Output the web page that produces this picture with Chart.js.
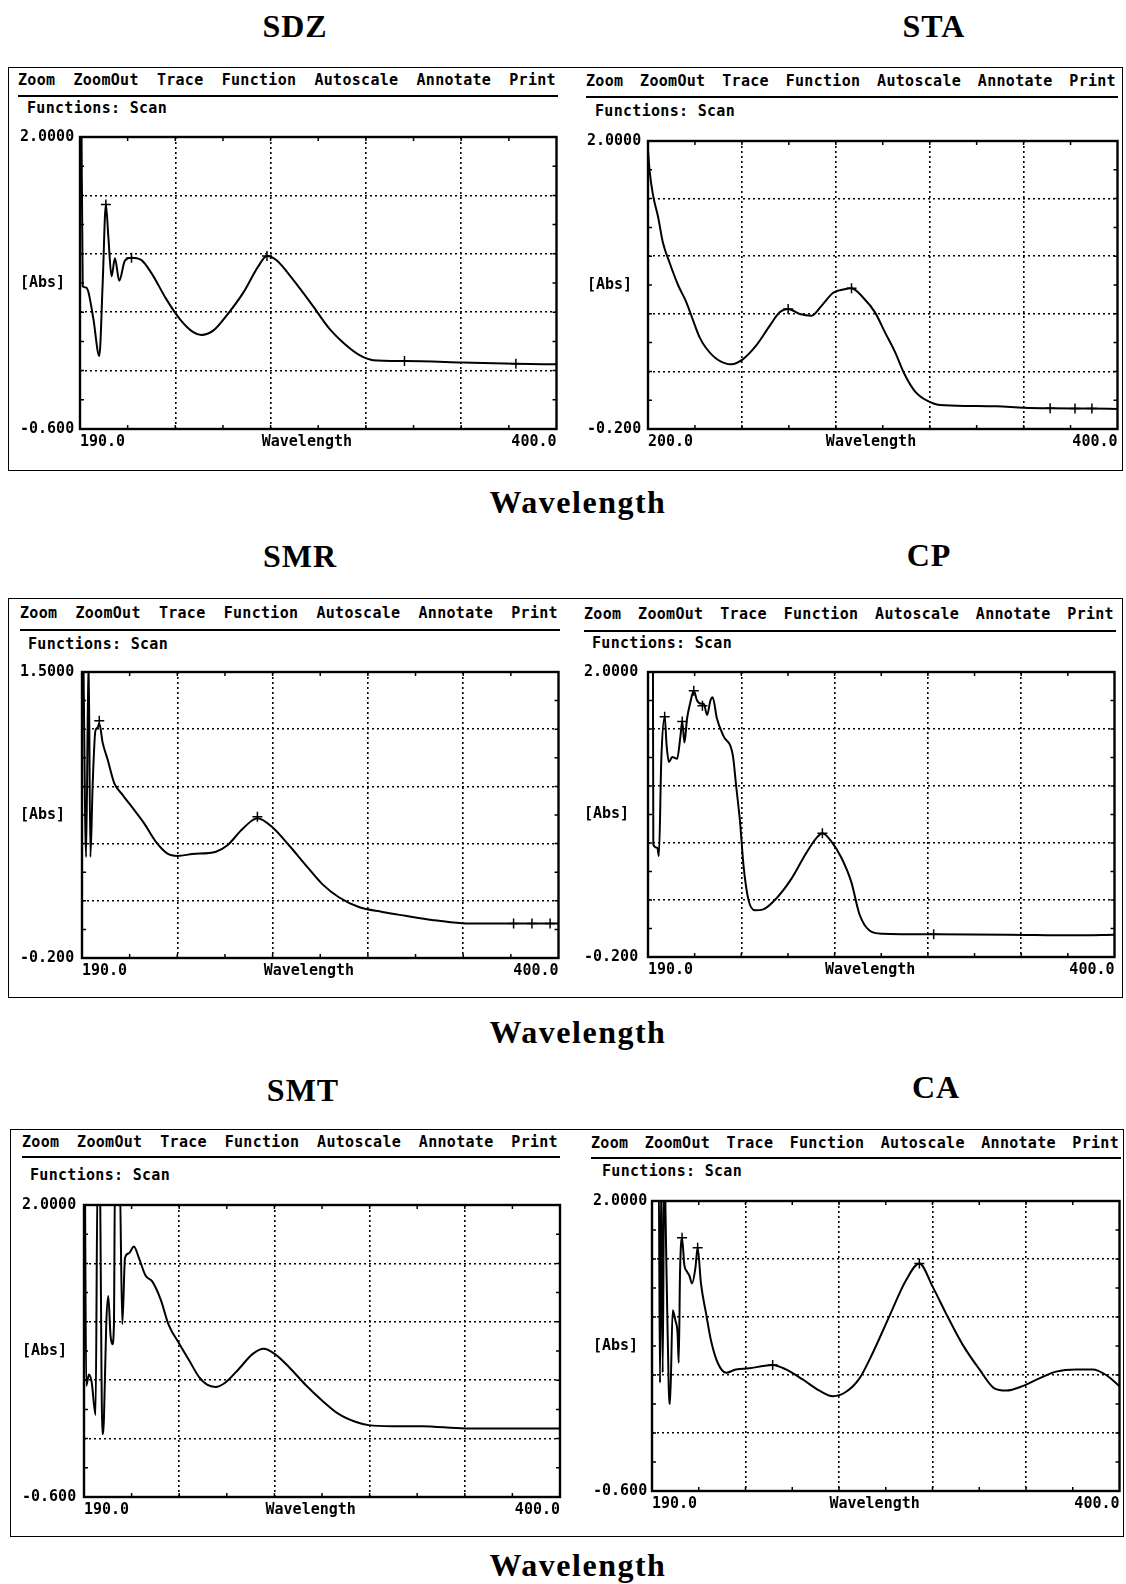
<!DOCTYPE html>
<html>
<head>
<meta charset="utf-8">
<title>UV scans</title>
<script src="https://cdn.jsdelivr.net/npm/chart.js"></script>
<style>
  body { margin: 0; background: #fff; }
  #page { position: relative; width: 1126px; height: 1584px; background: #fff; overflow: hidden; }
  .title, .caption { position: absolute; transform: translate(-50%, -50%); font-family: "Liberation Serif", "DejaVu Serif", serif; font-weight: bold; color: #000; white-space: nowrap; }
  .title { font-size: 32px; letter-spacing: 1px; }
  .caption { font-size: 32px; letter-spacing: 1.5px; }
  .box { position: absolute; border: 1.5px solid #000; box-sizing: border-box; }
  .menu { position: absolute; display: flex; justify-content: space-between; height: 18px; line-height: 18px; font: bold 15px "DejaVu Sans Mono", monospace; letter-spacing: 0.3px; color: #000; }
  .rule { position: absolute; height: 2px; background: #000; }
  .func { position: absolute; height: 18px; line-height: 18px; font: bold 15px "DejaVu Sans Mono", monospace; letter-spacing: 0.3px; color: #000; white-space: pre; }
  canvas { position: absolute; }
</style>
</head>
<body>
<div id="page"></div>
<script>
// ---- data ----
const titles = ['SDZ', 'STA', 'SMR', 'CP', 'SMT', 'CA'];
const menuItems = ['Zoom', 'ZoomOut', 'Trace', 'Function', 'Autoscale', 'Annotate', 'Print'];
const functionsText = 'Functions: Scan';
const xCaption = 'Wavelength';

const xMin = [190, 200, 190, 190, 190, 190];
const xMax = [400, 400, 400, 400, 400, 400];
const yMin = [-0.6, -0.2, -0.2, -0.2, -0.6, -0.6];
const yMax = [2.0, 2.0, 1.5, 2.0, 2.0, 2.0];
const xStartLabels = ['190.0', '200.0', '190.0', '190.0', '190.0', '190.0'];
const xEndLabels = ['400.0', '400.0', '400.0', '400.0', '400.0', '400.0'];
const yTopLabels = ['2.0000', '2.0000', '1.5000', '2.0000', '2.0000', '2.0000'];
const yBottomLabels = ['-0.600', '-0.200', '-0.200', '-0.200', '-0.600', '-0.600'];
const yMidLabel = '[Abs]';

const sdzWl = [190.6, 191.2, 192.6, 193.7, 195.9, 198.5, 200.0, 201.4, 202.5, 203.9, 205.4, 207.3, 209.8, 212.7, 217.1, 221.5, 228.1, 234.0, 239.9, 243.5, 248.7, 254.5, 261.9, 268.5, 272.4, 276.5, 283.9, 292.6, 300.0, 307.3, 313.2, 319.1, 333.0, 358.6, 382.1, 400.0];
const sdzAbs = [2.3, 0.67, 0.66, 0.62, 0.38, 0.05, 0.70, 1.40, 1.11, 0.76, 0.92, 0.72, 0.90, 0.925, 0.904, 0.788, 0.554, 0.379, 0.262, 0.238, 0.276, 0.408, 0.612, 0.846, 0.940, 0.904, 0.729, 0.496, 0.291, 0.145, 0.057, 0.013, 0.005, -0.007, -0.019, -0.024];
const sdzMarkWl = [201.4, 212.7, 272.4, 333.0, 382.1];
const sdzMarkAbs = [1.40, 0.925, 0.94, 0.005, -0.019];

const staWl = [200.0, 200.7, 202.1, 204.3, 206.4, 209.2, 212.8, 216.3, 219.2, 222.0, 224.9, 229.9, 235.5, 240.5, 246.2, 251.9, 256.1, 259.7, 264.7, 269.7, 273.9, 278.9, 283.2, 286.7, 291.7, 296.7, 300.9, 305.2, 309.4, 313.7, 318.7, 324.4, 337.2, 348.6, 359.9, 371.3, 389.1, 400.0];
const staAbs = [1.93, 1.77, 1.59, 1.42, 1.22, 1.07, 0.90, 0.77, 0.63, 0.50, 0.415, 0.327, 0.294, 0.334, 0.44, 0.59, 0.691, 0.716, 0.678, 0.665, 0.741, 0.841, 0.866, 0.876, 0.803, 0.691, 0.54, 0.389, 0.214, 0.088, 0.018, -0.017, -0.024, -0.027, -0.037, -0.042, -0.044, -0.047];
const staMarkWl = [259.7, 286.7, 371.3, 381.9, 389.1];
const staMarkAbs = [0.716, 0.876, -0.042, -0.043, -0.044];

const smrWl = [190.6, 191.8, 192.9, 193.7, 194.7, 195.9, 196.9, 197.6, 199.1, 201.3, 204.2, 207.9, 213.0, 217.4, 222.6, 227.7, 232.1, 238.7, 249.0, 254.1, 260.0, 265.1, 267.3, 273.9, 281.2, 288.5, 295.9, 303.2, 312.0, 322.3, 332.5, 344.2, 357.5, 367.7, 380.9, 400.0];
const smrAbs = [1.6, 0.40, 1.6, 0.40, 0.83, 1.15, 1.17, 1.195, 1.08, 0.98, 0.84, 0.77, 0.68, 0.60, 0.49, 0.42, 0.407, 0.418, 0.432, 0.47, 0.557, 0.619, 0.631, 0.577, 0.47, 0.354, 0.239, 0.161, 0.103, 0.074, 0.051, 0.026, 0.007, 0.005, 0.005, 0.005];
const smrMarkWl = [197.6, 267.3, 380.2, 388.3, 396.3];
const smrMarkAbs = [1.21, 0.64, 0.005, 0.005, 0.005];

const cpWl = [192.2, 192.4, 194.2, 194.9, 196.0, 197.5, 198.4, 199.4, 200.9, 203.1, 204.6, 205.4, 206.4, 207.6, 209.1, 210.6, 212.1, 213.9, 215.1, 216.6, 218.1, 219.1, 221.0, 224.0, 228.2, 229.7, 231.5, 233.0, 235.2, 238.2, 241.9, 247.9, 254.6, 261.3, 265.8, 268.5, 272.5, 277.0, 281.5, 285.2, 289.7, 295.6, 318.6, 352.3, 382.1, 400.0];
const cpAbs = [2.3, 0.668, 0.643, 0.58, 1.33, 1.655, 1.43, 1.305, 1.343, 1.33, 1.505, 1.618, 1.455, 1.643, 1.768, 1.855, 1.78, 1.755, 1.755, 1.668, 1.78, 1.805, 1.643, 1.505, 1.355, 1.118, 0.83, 0.505, 0.243, 0.16, 0.168, 0.255, 0.405, 0.605, 0.718, 0.755, 0.693, 0.568, 0.38, 0.13, 0.005, -0.02, -0.025, -0.028, -0.033, -0.028];
const cpMarkWl = [197.5, 205.4, 210.6, 214.5, 268.5, 318.6];
const cpMarkAbs = [1.655, 1.618, 1.855, 1.74, 0.755, -0.025];

const smtWl = [190.4, 191.0, 192.2, 193.4, 195.1, 196.0, 196.9, 198.1, 198.8, 199.8, 200.7, 201.7, 202.5, 203.2, 203.7, 204.7, 205.7, 206.9, 208.1, 209.8, 212.0, 214.2, 217.2, 220.1, 223.8, 227.4, 231.9, 236.3, 240.7, 244.3, 248.0, 252.4, 258.3, 264.2, 269.3, 274.4, 280.3, 287.7, 295.0, 302.3, 309.7, 315.6, 325.8, 339.1, 358.2, 377.2, 400.0];
const smtAbs = [2.3, 0.39, 0.49, 0.42, 0.13, 2.3, 2.3, -0.04, 0.10, 0.93, 1.19, 0.84, 0.76, 0.93, 2.3, 2.3, 2.3, 0.94, 1.53, 1.57, 1.63, 1.53, 1.37, 1.32, 1.16, 0.93, 0.77, 0.62, 0.47, 0.40, 0.38, 0.42, 0.54, 0.67, 0.72, 0.67, 0.56, 0.40, 0.26, 0.14, 0.07, 0.04, 0.03, 0.03, 0.01, 0.01, 0.01];
const smtMarkWl = [];
const smtMarkAbs = [];

const caWl = [190.0, 193.0, 193.6, 194.2, 194.8, 195.5, 196.6, 197.5, 198.1, 199.3, 200.5, 201.5, 202.0, 202.6, 203.5, 204.5, 205.6, 206.8, 208.0, 209.5, 210.5, 212.0, 214.3, 216.5, 219.5, 223.3, 227.7, 233.7, 239.7, 244.2, 250.2, 257.7, 265.2, 271.2, 277.2, 283.2, 289.2, 296.7, 304.1, 310.1, 316.1, 322.1, 329.6, 337.1, 343.8, 349.1, 356.5, 364.0, 371.5, 380.5, 388.0, 394.0, 400.0];
const caAbs = [2.3, 2.3, 0.37, 2.3, 0.46, 2.3, 1.28, 0.34, 0.18, 1.02, 0.93, 0.81, 0.55, 1.37, 1.67, 1.43, 1.37, 1.33, 1.26, 1.40, 1.58, 1.26, 0.99, 0.75, 0.55, 0.46, 0.49, 0.50, 0.52, 0.53, 0.49, 0.40, 0.30, 0.25, 0.29, 0.41, 0.64, 0.97, 1.29, 1.44, 1.23, 0.99, 0.71, 0.49, 0.32, 0.30, 0.34, 0.41, 0.47, 0.49, 0.49, 0.44, 0.34];
const caMarkWl = [203.5, 210.5, 244.2, 310.1];
const caMarkAbs = [1.67, 1.58, 0.53, 1.44];

const seriesWl = [sdzWl, staWl, smrWl, cpWl, smtWl, caWl];
const seriesAbs = [sdzAbs, staAbs, smrAbs, cpAbs, smtAbs, caAbs];
const markWl = [sdzMarkWl, staMarkWl, smrMarkWl, cpMarkWl, smtMarkWl, caMarkWl];
const markAbs = [sdzMarkAbs, staMarkAbs, smrMarkAbs, cpMarkAbs, smtMarkAbs, caMarkAbs];

// ---- page layout (pixels) ----
const rowBoxes = [
  { l: 8, t: 67, r: 1123, b: 471 },
  { l: 8, t: 598, r: 1123, b: 998 },
  { l: 10, t: 1129, r: 1124, b: 1537 }
];
const rowCaptionY = [502, 1032, 1565];
const titlePos = [[295, 26], [934, 26], [300, 556], [929, 555], [303, 1090], [936, 1087]];
const layout = [
  { labelX: 20,  fl: 80,  ft: 134,  fr: 557,  fb: 429,  menuL: 18,  menuR: 556,  menuY: 80,   ruleY: 96,   funcX: 27,  funcY: 108 },
  { labelX: 587, fl: 648, ft: 138,  fr: 1118, fb: 429,  menuL: 586, menuR: 1116, menuY: 81,   ruleY: 97,   funcX: 595, funcY: 111 },
  { labelX: 20,  fl: 82,  ft: 669,  fr: 559,  fb: 958,  menuL: 20,  menuR: 558,  menuY: 613,  ruleY: 630,  funcX: 28,  funcY: 644 },
  { labelX: 584, fl: 648, ft: 669,  fr: 1115, fb: 957,  menuL: 584, menuR: 1114, menuY: 614,  ruleY: 631,  funcX: 592, funcY: 643 },
  { labelX: 22,  fl: 84,  ft: 1202, fr: 560,  fb: 1497, menuL: 22,  menuR: 558,  menuY: 1142, ruleY: 1157, funcX: 30,  funcY: 1175 },
  { labelX: 593, fl: 652, ft: 1198, fr: 1120, fb: 1491, menuL: 591, menuR: 1119, menuY: 1143, ruleY: 1158, funcX: 602, funcY: 1171 }
];

const page = document.getElementById('page');
function el(cls, css, text) {
  const d = document.createElement('div');
  d.className = cls;
  Object.assign(d.style, css);
  if (text !== undefined) d.textContent = text;
  page.appendChild(d);
  return d;
}

rowBoxes.forEach(b => el('box', { left: b.l + 'px', top: b.t + 'px', width: (b.r - b.l) + 'px', height: (b.b - b.t) + 'px' }));
rowCaptionY.forEach(y => el('caption', { left: '578px', top: y + 'px' }, xCaption));

// ticks every half division; grid on the inner majors only
function axisTicks(min, max, firstText, lastText, midText, extraAt) {
  const out = [];
  for (let i = 0; i <= 10; i++) {
    const kind = (i === 0 || i === 10) ? 'edge' : (i % 2 === 0 ? 'major' : 'minor');
    let text = '';
    if (i === 0) text = firstText;
    if (i === 10) text = lastText;
    if (i === 5 && extraAt === null) text = midText;
    out.push({ value: min + (max - min) * i / 10, kind: kind, text: text });
  }
  if (extraAt !== null) out.push({ value: extraAt, kind: 'label', text: midText });
  return out.sort((a, b) => a.value - b.value);
}

const framePlugin = {
  id: 'frame',
  afterDatasetsDraw(chart) {
    const { ctx, chartArea: a, scales } = chart;
    ctx.save();
    ctx.strokeStyle = '#000';
    ctx.lineWidth = 1.5;
    ctx.beginPath();
    scales.x.ticks.forEach(t => {
      if (t.kind !== 'major' && t.kind !== 'minor') return;
      const px = scales.x.getPixelForValue(t.value);
      ctx.moveTo(px, a.top); ctx.lineTo(px, a.top + 4);
      ctx.moveTo(px, a.bottom); ctx.lineTo(px, a.bottom - 4);
    });
    scales.y.ticks.forEach(t => {
      if (t.kind !== 'major' && t.kind !== 'minor') return;
      const py = scales.y.getPixelForValue(t.value);
      ctx.moveTo(a.left, py); ctx.lineTo(a.left + 4, py);
      ctx.moveTo(a.right, py); ctx.lineTo(a.right - 4, py);
    });
    ctx.stroke();
    ctx.lineWidth = 2.4;
    ctx.strokeRect(a.left, a.top, a.right - a.left, a.bottom - a.top);
    ctx.restore();
  }
};

const tickFont = { family: 'DejaVu Sans Mono', size: 15, weight: 'bold' };
const gridColor = ctx => (ctx.tick && ctx.tick.kind === 'major') ? '#000' : 'rgba(0,0,0,0)';

titles.forEach((name, k) => {
  const g = layout[k];
  el('title', { left: titlePos[k][0] + 'px', top: titlePos[k][1] + 'px' }, name);

  const menu = el('menu', { left: g.menuL + 'px', top: (g.menuY - 9) + 'px', width: (g.menuR - g.menuL) + 'px' });
  menuItems.forEach(m => { const s = document.createElement('span'); s.textContent = m; menu.appendChild(s); });
  el('rule', { left: g.menuL + 'px', top: (g.ruleY - 1) + 'px', width: (g.menuR - g.menuL + 2) + 'px' });
  el('func', { left: g.funcX + 'px', top: (g.funcY - 9) + 'px' }, functionsText);

  const padTop = 10, padRight = 6, xAxisH = 26;
  const canvas = document.createElement('canvas');
  const w = g.fr + padRight - g.labelX;
  const h = g.fb - g.ft + padTop + xAxisH;
  canvas.width = w; canvas.height = h;
  Object.assign(canvas.style, { left: g.labelX + 'px', top: (g.ft - padTop) + 'px', width: w + 'px', height: h + 'px' });
  page.appendChild(canvas);

  const xT = axisTicks(xMin[k], xMax[k], xStartLabels[k], xEndLabels[k], xCaption, (xMin[k] + xMax[k]) / 2 - 5);
  const yT = axisTicks(yMin[k], yMax[k], yBottomLabels[k], yTopLabels[k], yMidLabel, null);

  new Chart(canvas, {
    type: 'line',
    data: {
      datasets: [
        {
          data: seriesWl[k].map((x, i) => ({ x: x, y: seriesAbs[k][i] })),
          borderColor: '#000', borderWidth: 2, pointRadius: 0,
          cubicInterpolationMode: 'monotone', fill: false
        },
        {
          data: markWl[k].map((x, i) => ({ x: x, y: markAbs[k][i] })),
          showLine: false, pointStyle: 'cross', pointRadius: 5,
          borderColor: '#000', pointBorderWidth: 1.5
        }
      ]
    },
    options: {
      responsive: false,
      animation: false,
      events: [],
      layout: { padding: { top: padTop, right: padRight, left: 0, bottom: 0 } },
      plugins: { legend: { display: false }, tooltip: { enabled: false } },
      scales: {
        x: {
          type: 'linear', min: xMin[k], max: xMax[k],
          afterBuildTicks: s => { s.ticks = xT; },
          afterFit: s => { s.height = xAxisH; },
          grid: { color: gridColor, lineWidth: 1.6, drawTicks: false },
          border: { display: false, dash: [2, 3] },
          ticks: { autoSkip: false, maxRotation: 0, minRotation: 0, align: 'inner', padding: 4, color: '#000', font: tickFont,
                   callback: (v, i, t) => t[i].text }
        },
        y: {
          type: 'linear', min: yMin[k], max: yMax[k],
          afterBuildTicks: s => { s.ticks = yT; },
          afterFit: s => { s.width = g.fl - g.labelX; },
          grid: { color: gridColor, lineWidth: 1.6, drawTicks: false },
          border: { display: false, dash: [2, 3] },
          ticks: { autoSkip: false, crossAlign: 'far', padding: 4, color: '#000', font: tickFont,
                   callback: (v, i, t) => t[i].text }
        }
      }
    },
    plugins: [framePlugin]
  });
});
</script>
</body>
</html>
